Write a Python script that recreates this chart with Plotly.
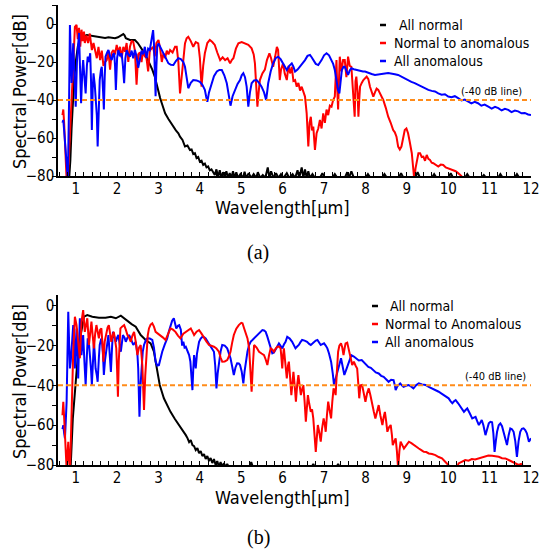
import plotly.graph_objects as go

# ---------------- data: panel (a) ----------------
a_normal_x = [0.84, 0.87, 0.90, 0.93, 0.96, 1.00, 1.05, 1.10, 1.18, 1.27, 1.37, 1.47, 1.55, 1.63, 1.71, 1.79, 1.87, 1.95, 2.02, 2.07, 2.12, 2.15, 2.18, 2.21, 2.31, 2.43, 2.50, 2.55, 2.62, 2.67, 2.73, 2.79, 2.85, 2.91, 2.96, 3.00, 3.04, 3.08, 3.12, 3.16, 3.24, 3.32, 3.42, 3.48, 3.52, 3.58, 3.64, 3.70, 3.76, 3.80, 3.84, 3.88, 3.92, 3.96, 4.00, 4.04, 4.08, 4.12, 4.16, 4.20, 4.24, 4.28, 4.32,
              4.36, 4.40, 4.44, 4.48, 4.52, 4.56, 4.60, 4.64, 4.68, 4.72, 4.76, 4.80, 4.84, 4.88, 4.92, 4.98, 5.04, 5.08, 5.12, 5.18, 5.24, 5.30, 5.36, 5.40, 5.46, 5.52, 5.58, 5.64, 5.68, 5.72, 5.78, 5.84, 5.90, 5.96, 6.02, 6.10, 6.16, 6.24, 6.30, 6.36, 6.40, 6.46, 6.50, 6.54, 6.58, 6.62, 6.66, 6.72, 6.78, 6.90, 6.96, 7.02, 7.20, 7.26, 7.32, 7.50, 7.56, 7.60, 7.66, 7.72, 8.00, 8.06, 8.12, 8.40, 8.46, 8.52, 8.80, 8.86, 8.92, 9.20, 9.26, 9.32, 9.60, 9.66, 9.72, 10.00, 10.06, 10.12, 10.40, 10.46, 10.52, 10.80, 10.86, 10.92, 11.20, 11.26, 11.32, 11.60, 11.66, 11.72, 12.00]
a_normal_y = [-82, -72, -55, -42, -30, -20, -12, -8, -6.5, -5.8, -6.2, -6.7, -7.0, -7.2, -7.4, -7.0, -7.3, -7.5, -7.0, -6.3, -6.0, -5.3, -6.0, -7.5, -8.4, -8.4, -10, -12, -14, -15.4, -18, -20.7, -24, -27.7, -32, -36.5, -39, -41.7, -44, -47, -50, -53, -56, -57.5, -59.3, -61, -64.5, -64, -66.3, -66, -68.5, -68, -70.6, -70, -72.5, -72, -74.2, -73.5, -75.5, -75, -77, -76.5, -78.4,
              -79.5, -76.5, -80.5, -77, -81, -78, -80.5, -77.5, -81, -78.5, -81, -77.5, -81, -78, -81, -79, -81, -77.8, -81, -78.5, -81, -79, -81, -78, -81, -79.5, -81, -75.5, -81, -77.5, -81, -78.5, -81, -79, -81, -78.5, -81, -79, -81, -77, -81, -75.5, -81, -76.5, -81, -77.5, -81, -79, -81, -81, -78.5, -81, -81, -79, -81, -81, -78, -81, -77.5, -81, -81, -79, -81, -81, -79, -81, -81, -78.5, -81, -81, -78, -81, -81, -79, -81, -81, -78.5, -81, -81, -79, -81, -81, -79.5, -81, -81, -79, -81, -81, -79, -81, -81]

a_n2a_x = [0.68, 0.70, 0.72, 0.74, 0.76, 0.78, 0.81, 0.84, 0.87, 0.90, 0.94, 0.98, 1.02, 1.05, 1.08, 1.11, 1.14, 1.17, 1.20, 1.22, 1.26, 1.30, 1.34, 1.39, 1.43, 1.47, 1.51, 1.55, 1.59, 1.63, 1.67, 1.71, 1.75, 1.79, 1.83, 1.87, 1.91, 1.95, 1.99, 2.03, 2.07, 2.11, 2.15, 2.19, 2.23, 2.27, 2.31, 2.35, 2.39, 2.43, 2.47, 2.51, 2.55, 2.59, 2.63, 2.67, 2.71, 2.75, 2.79, 2.83, 2.87, 2.91, 2.95, 3.00, 3.04, 3.08, 3.12, 3.16, 3.20, 3.24, 3.28, 3.34, 3.40, 3.44, 3.48, 3.52, 3.56, 3.60, 3.64, 3.68, 3.72, 3.78, 3.84, 3.90, 3.96, 4.00, 4.04, 4.08, 4.12, 4.18, 4.24, 4.30, 4.36, 4.42, 4.49, 4.55, 4.61, 4.67, 4.73, 4.77, 4.81, 4.87, 4.93, 5.01, 5.09, 5.17, 5.25, 5.30, 5.33, 5.36, 5.39, 5.42, 5.45, 5.51, 5.57, 5.62, 5.68, 5.72, 5.77, 5.82, 5.86, 5.89, 5.91, 5.93, 5.96, 6.01, 6.05, 6.10, 6.14, 6.18, 6.22, 6.26, 6.30, 6.34, 6.38, 6.42, 6.46, 6.50, 6.54, 6.58, 6.62, 6.65, 6.68, 6.71, 6.74, 6.78, 6.82, 6.86, 6.90, 6.94, 6.98, 7.02, 7.06, 7.10, 7.14, 7.18, 7.22, 7.26, 7.28, 7.30, 7.32, 7.34, 7.36, 7.38, 7.42, 7.46, 7.50, 7.54, 7.58, 7.62, 7.66, 7.70, 7.74, 7.76, 7.78, 7.81, 7.83, 7.85, 7.87, 7.91, 7.95, 8.03, 8.07, 8.11, 8.15, 8.19, 8.23, 8.27, 8.31, 8.37, 8.43, 8.49, 8.55, 8.61, 8.67, 8.71, 8.75, 8.79, 8.83, 8.87, 8.91, 8.95, 8.99, 9.03, 9.07, 9.12, 9.15, 9.18, 9.21, 9.24, 9.28, 9.32, 9.36, 9.40, 9.44, 9.48, 9.52, 9.56, 9.60, 9.64, 9.70, 9.76, 9.82, 9.88, 9.94, 10.00, 10.06, 10.12, 10.18, 10.24, 10.28, 10.32, 10.36]
a_n2a_y = [-48, -45, -52, -62, -75, -82, -82, -70, -55, -40, -22, -1.5, -0.5, -8, -2, -12, -3, -9, -4, -10, -6, -10, -5, -13.7, -10, -13.7, -18, -12, -19, -14, -22, -20, -19, -14, -24, -15, -13.7, -16, -11, -15, -12, -18, -12, -14.6, -10, -20, -12, -9, -9.3, -14, -32, -16, -15, -20, -14, -17, -18, -25, -14, -13, -12, -17, -10, -8.4, -13, -20, -15.4, -18, -14, -16, -13.7, -15, -12, -12, -20, -36.5, -28, -18, -10.2, -7.5, -6.7, -9, -12, -9.5, -10.2, -18, -33, -22, -15.4, -10, -8.4, -9.5, -11, -15, -19, -17.5, -19, -18, -20.7, -19, -18, -13, -10.2, -9.5, -10.2, -11, -12.8, -16, -20.7, -30, -43.5, -36, -29.5, -26, -24, -19, -15.4, -18, -22.5, -17, -12, -13.7, -20, -29.5, -24, -20.7, -26, -29.5, -22, -26, -22.5, -30, -29.5, -33, -31, -35, -33, -36, -38.2, -47, -64.5, -52, -48.8, -56, -54, -66.3, -57.5, -55, -50.5, -55, -47, -52, -45, -48, -43, -43.5, -40, -38.2, -25, -19, -35, -45, -30, -17.2, -25, -19, -19, -28, -17.2, -22, -22.5, -35, -48.8, -30, -27.7, -36, -48.8, -40, -33, -31, -29.5, -27.7, -29, -33, -36, -38.2, -36, -34, -34.7, -37, -40, -44, -48.8, -52, -55.8, -57, -59.3, -64.5, -66, -64.5, -60, -55.8, -55, -57.5, -62, -68, -75, -82, -76, -71.6, -68, -68, -70, -69.8, -72, -68.9, -71, -71.6, -73, -73.3, -74, -75, -74, -74.2, -75.5, -75.9, -76.5, -76.8, -77.5, -78.5, -79.2, -80, -82]

a_anom_x = [0.68, 0.70, 0.72, 0.74, 0.77, 0.81, 0.84, 0.86, 0.88, 0.90, 0.94, 0.97, 1.00, 1.03, 1.05, 1.08, 1.10, 1.13, 1.16, 1.18, 1.21, 1.24, 1.27, 1.29, 1.32, 1.35, 1.37, 1.39, 1.41, 1.43, 1.46, 1.48, 1.51, 1.53, 1.56, 1.58, 1.61, 1.63, 1.66, 1.68, 1.70, 1.72, 1.76, 1.79, 1.83, 1.87, 1.90, 1.93, 1.95, 1.97, 2.00, 2.03, 2.07, 2.11, 2.14, 2.17, 2.20, 2.23, 2.27, 2.31, 2.35, 2.39, 2.43, 2.47, 2.51, 2.55, 2.59, 2.63, 2.67, 2.71, 2.75, 2.79, 2.83, 2.87, 2.89, 2.91, 2.93, 2.95, 2.97, 3.00, 3.04, 3.08, 3.12, 3.18, 3.24, 3.30, 3.36, 3.42, 3.48, 3.54, 3.60, 3.64, 3.68, 3.72, 3.78, 3.84, 3.92, 4.00, 4.06, 4.12, 4.15, 4.18, 4.22, 4.28, 4.34, 4.41, 4.47, 4.53, 4.59, 4.65, 4.70, 4.74, 4.79, 4.85, 4.91, 4.97, 5.01, 5.05, 5.09, 5.13, 5.17, 5.21, 5.25, 5.31, 5.37, 5.43, 5.49, 5.55, 5.60, 5.63, 5.65, 5.71, 5.77, 5.83, 5.89, 5.95, 6.01, 6.06, 6.10, 6.16, 6.22, 6.26, 6.30, 6.36, 6.42, 6.48, 6.54, 6.60, 6.66, 6.70, 6.74, 6.80, 6.86, 6.90, 6.94, 7.00, 7.06, 7.12, 7.18, 7.22, 7.26, 7.30, 7.34, 7.37, 7.40, 7.43, 7.47, 7.50, 7.54, 7.58, 7.62, 7.66, 7.72, 7.78, 7.86, 7.94, 7.99, 8.07, 8.15, 8.23, 8.31, 8.39, 8.47, 8.55, 8.63, 8.71, 8.79, 8.87, 8.95, 9.03, 9.11, 9.19, 9.27, 9.35, 9.43, 9.52, 9.60, 9.68, 9.76, 9.84, 9.92, 10.00, 10.08, 10.16, 10.24, 10.32, 10.40, 10.48, 10.56, 10.64, 10.72, 10.80, 10.88, 10.97, 11.05, 11.13, 11.21, 11.29, 11.37, 11.45, 11.53, 11.61, 11.69, 11.77, 11.85, 11.93, 12.00]
a_anom_y = [-52, -50.5, -56, -61, -70, -82, -40, -0.5, -15, -31, -10.2, -25, -43.5, -20, -13.7, -4.7, -20, -41.7, -25, -19, -28, -36.5, -22, -17.2, -20, -15.4, -30, -55.8, -35, -26, -32, -40, -48, -64.5, -40, -29.5, -24, -22.5, -35, -45, -28, -17.2, -15, -13.7, -17, -19, -16, -15.4, -22, -34.7, -18, -13.7, -17, -15.4, -22, -31.2, -18, -13.7, -16, -17.2, -14, -18, -13.7, -17, -23, -18, -14, -16, -12, -18, -13, -13.7, -8, -3.2, -10, -25, -38, -22, -12, -10.2, -12, -14, -15.4, -18, -20.7, -21.5, -21.6, -19.5, -18, -18.5, -20, -22.5, -28, -33.8, -31, -29.5, -29.7, -30.4, -32, -34.7, -38, -40.9, -36, -31.2, -27.5, -25, -24.2, -24.2, -27, -31.2, -37, -43, -38, -34.7, -31.5, -29.5, -27, -25.9, -28, -33, -43.5, -36, -31.2, -29.7, -29.5, -31, -33, -36, -40, -35, -31.2, -25, -20.7, -18, -17.2, -18.5, -20.7, -23, -24.2, -22, -20.7, -22.5, -25, -24, -22.5, -20.5, -19, -16.8, -16.3, -17.5, -19, -21, -21.6, -20.5, -19, -16.5, -15.4, -16.5, -19, -21, -24.2, -31.2, -35, -36.5, -28, -24.2, -22.5, -22.5, -24.5, -26.8, -24.5, -23.3, -23.8, -24.2, -24.5, -25, -25, -25.8, -26.3, -26.8, -26.4, -26.1, -26, -25.8, -26, -26.4, -26.8, -27.8, -28.7, -29.5, -30.5, -31.1, -32, -32.8, -33.4, -34.7, -35.2, -35.5, -36.5, -37.2, -37.0, -38.2, -38.5, -38.0, -39, -40.2, -39.8, -40.9, -41.8, -41.0, -41.7, -43.0, -42.4, -43.5, -44.5, -43.6, -44.3, -45.5, -44.6, -45.2, -46.4, -45.6, -46, -47.0, -46.8, -47.6, -47.9]

# ---------------- data: panel (b) ----------------
b_normal_x = [0.84, 0.88, 0.93, 0.98, 1.04, 1.12, 1.20, 1.28, 1.40, 1.56, 1.72, 1.85, 1.97, 2.09, 2.17, 2.25, 2.35, 2.45, 2.57, 2.69, 2.81, 2.89, 2.93, 2.97, 3.03, 3.13, 3.21, 3.29, 3.40, 3.50, 3.58, 3.66, 3.70, 3.74, 3.78, 3.82, 3.86, 3.90, 3.94, 3.98, 4.02, 4.06, 4.10, 4.14, 4.18, 4.22, 4.26, 4.30, 4.34, 4.38, 4.42, 4.46, 4.50, 4.54, 4.58, 4.62, 4.66, 4.70, 5.20, 5.24, 5.28, 6.70, 6.74, 6.78, 7.30, 7.34, 7.38, 12.00]
b_normal_y = [-82, -80, -56.6, -43.2, -28, -14.7, -5.5, -4.7, -5.5, -6, -6, -5.5, -6.3, -5, -6.3, -8, -9.2, -10.5, -14.7, -17.2, -18.9, -23.1, -28, -33.2, -39.8, -46.5, -50, -53.3, -57, -59.9, -62.5, -65, -66.5, -68.5, -67.5, -70, -70.5, -72.5, -71.5, -74, -73, -75.5, -74.5, -77, -75.5, -78, -76.5, -79, -77, -80, -78, -81, -78.5, -81, -79, -81, -79.5, -81, -81, -78.5, -81, -81, -79.5, -81, -81, -79.5, -81, -81]

b_n2a_x = [0.68, 0.70, 0.72, 0.74, 0.76, 0.78, 0.80, 0.82, 0.84, 0.86, 0.88, 0.91, 0.94, 0.98, 1.02, 1.06, 1.10, 1.14, 1.18, 1.22, 1.25, 1.28, 1.32, 1.35, 1.38, 1.41, 1.44, 1.47, 1.50, 1.53, 1.56, 1.59, 1.62, 1.65, 1.67, 1.70, 1.74, 1.77, 1.80, 1.83, 1.86, 1.89, 1.92, 1.95, 1.98, 2.00, 2.02, 2.04, 2.06, 2.08, 2.12, 2.17, 2.21, 2.25, 2.29, 2.33, 2.37, 2.41, 2.45, 2.49, 2.53, 2.57, 2.61, 2.65, 2.68, 2.71, 2.74, 2.77, 2.81, 2.85, 2.89, 2.93, 2.99, 3.05, 3.11, 3.17, 3.23, 3.29, 3.35, 3.41, 3.47, 3.53, 3.60, 3.66, 3.72, 3.78, 3.82, 3.86, 3.92, 3.98, 4.04, 4.10, 4.16, 4.22, 4.28, 4.34, 4.40, 4.46, 4.50, 4.54, 4.60, 4.66, 4.70, 4.74, 4.78, 4.82, 4.88, 4.94, 5.00, 5.03, 5.07, 5.11, 5.15, 5.19, 5.22, 5.25, 5.28, 5.31, 5.37, 5.43, 5.49, 5.55, 5.59, 5.63, 5.67, 5.71, 5.75, 5.79, 5.83, 5.87, 5.91, 5.95, 5.97, 5.99, 6.01, 6.03, 6.06, 6.10, 6.13, 6.15, 6.18, 6.21, 6.24, 6.26, 6.29, 6.32, 6.35, 6.38, 6.41, 6.44, 6.47, 6.50, 6.53, 6.56, 6.59, 6.61, 6.64, 6.68, 6.71, 6.74, 6.77, 6.80, 6.83, 6.85, 6.88, 6.92, 6.95, 6.99, 7.02, 7.04, 7.07, 7.10, 7.13, 7.17, 7.20, 7.23, 7.26, 7.28, 7.31, 7.34, 7.37, 7.41, 7.44, 7.47, 7.50, 7.52, 7.56, 7.60, 7.64, 7.68, 7.72, 7.76, 7.80, 7.83, 7.85, 7.88, 7.92, 7.96, 8.00, 8.04, 8.08, 8.12, 8.16, 8.20, 8.24, 8.28, 8.32, 8.36, 8.41, 8.44, 8.47, 8.50, 8.53, 8.57, 8.61, 8.64, 8.66, 8.70, 8.73, 8.76, 8.79, 8.82, 8.85, 8.89, 8.93, 8.99, 9.05, 9.11, 9.17, 9.23, 9.29, 9.35, 9.41, 9.47, 9.53, 9.61, 9.69, 9.77, 9.85, 9.91, 9.97, 10.01, 10.05, 10.20, 10.25, 10.33, 10.41, 10.49, 10.57, 10.65, 10.73, 10.81, 10.89, 10.97, 11.06, 11.14, 11.22, 11.30, 11.38, 11.46, 11.54, 11.62, 11.70, 11.76, 11.82, 11.88]
b_n2a_y = [-55, -48.2, -56, -65, -75, -82, -75, -68.3, -78, -82, -70, -45, -23.1, -5.5, -9.7, -18, -26.4, -8, -2.2, -13.1, -9, -6.3, -19.7, -12, -8, -15, -21.4, -14, -9.7, -13, -16.4, -12, -11.4, -20, -28.1, -18, -13.1, -11, -9.7, -14, -18.1, -15, -13.1, -17, -21.4, -32, -45.7, -28, -15, -11.4, -10.5, -9.7, -12, -14.7, -16, -18.1, -15, -13.1, -18, -24.8, -21, -19.7, -30, -52.4, -35, -23.1, -15, -11.4, -9.5, -8.8, -10.5, -13.1, -14, -14.7, -16, -17.2, -14, -11.4, -12, -13.1, -15, -16.4, -14, -13.1, -12, -11.4, -13, -14.7, -13, -12.2, -14, -16.4, -18, -19.7, -20, -20.6, -21.5, -23.1, -26, -28.1, -28, -27.3, -25.5, -23.1, -18.5, -14.7, -11.5, -9.7, -8.6, -8.8, -11.4, -14, -16.4, -21.4, -30, -43.2, -30, -19.7, -21, -23.1, -24, -24.8, -27, -29.8, -25, -21.4, -22, -23.1, -21.5, -20.6, -20.5, -21.4, -26, -31.5, -25, -21.4, -28, -36.5, -30, -28.1, -36, -44.9, -38, -33.2, -40, -48.2, -40, -34.8, -40, -44.9, -42, -39.8, -48, -58.3, -50, -44.9, -49, -53.3, -52, -56.6, -65, -73.4, -65, -59.9, -63, -68.3, -62, -56.6, -60, -63.3, -55, -48.2, -52, -56.6, -48, -41.5, -43, -44.9, -33, -23.1, -20, -18.9, -21, -24.8, -21, -18.9, -18.5, -23.1, -26, -29.8, -28.1, -30, -31.5, -40, -46.5, -40, -39.8, -44, -48.2, -44, -41.5, -45, -49.9, -53, -56.6, -53, -49.9, -55, -59.9, -56, -53.3, -58, -63.3, -61, -59.9, -65, -70, -68, -66.6, -73, -82, -73, -68.3, -70, -71.7, -70, -68.3, -69, -70, -71, -71.7, -72.5, -73.4, -73.5, -74.2, -74.5, -75, -76, -76.7, -78, -79.2, -80.2, -82, -82, -79.2, -78.2, -77.5, -77.8, -77, -77.2, -76.7, -76.4, -75.9, -75.2, -75.4, -75.6, -75.9, -76.6, -76.7, -77.5, -78.4, -79, -80, -79.5, -81, -82]

b_anom_x = [0.68, 0.70, 0.72, 0.74, 0.76, 0.78, 0.80, 0.82, 0.84, 0.86, 0.88, 0.90, 0.92, 0.94, 0.96, 0.98, 1.00, 1.02, 1.04, 1.06, 1.08, 1.10, 1.12, 1.14, 1.16, 1.18, 1.21, 1.24, 1.27, 1.29, 1.32, 1.34, 1.37, 1.39, 1.42, 1.44, 1.46, 1.48, 1.51, 1.53, 1.56, 1.58, 1.61, 1.63, 1.66, 1.68, 1.71, 1.74, 1.77, 1.79, 1.82, 1.85, 1.88, 1.90, 1.94, 1.97, 2.00, 2.03, 2.06, 2.09, 2.12, 2.14, 2.18, 2.21, 2.25, 2.29, 2.34, 2.39, 2.45, 2.49, 2.51, 2.53, 2.54, 2.56, 2.59, 2.62, 2.65, 2.69, 2.73, 2.79, 2.85, 2.89, 2.93, 2.97, 3.01, 3.05, 3.09, 3.15, 3.21, 3.25, 3.29, 3.33, 3.37, 3.40, 3.43, 3.47, 3.50, 3.54, 3.57, 3.60, 3.63, 3.66, 3.70, 3.74, 3.77, 3.79, 3.82, 3.84, 3.86, 3.88, 3.90, 3.93, 3.96, 3.98, 4.02, 4.06, 4.10, 4.14, 4.20, 4.26, 4.31, 4.34, 4.37, 4.40, 4.43, 4.46, 4.50, 4.54, 4.60, 4.66, 4.70, 4.74, 4.78, 4.82, 4.86, 4.90, 4.94, 4.97, 5.01, 5.05, 5.08, 5.11, 5.15, 5.19, 5.23, 5.27, 5.33, 5.39, 5.45, 5.51, 5.55, 5.59, 5.63, 5.67, 5.71, 5.75, 5.79, 5.83, 5.87, 5.91, 5.95, 5.99, 6.03, 6.07, 6.11, 6.17, 6.23, 6.27, 6.31, 6.35, 6.39, 6.43, 6.47, 6.53, 6.59, 6.64, 6.68, 6.72, 6.76, 6.80, 6.84, 6.88, 6.92, 6.96, 7.00, 7.04, 7.08, 7.12, 7.17, 7.21, 7.24, 7.28, 7.33, 7.37, 7.41, 7.45, 7.49, 7.53, 7.57, 7.62, 7.66, 7.72, 7.78, 7.84, 7.91, 7.99, 8.07, 8.13, 8.19, 8.25, 8.32, 8.38, 8.44, 8.50, 8.56, 8.62, 8.68, 8.71, 8.73, 8.77, 8.84, 8.88, 8.92, 8.98, 9.04, 9.10, 9.16, 9.22, 9.29, 9.37, 9.45, 9.53, 9.61, 9.69, 9.77, 9.83, 9.89, 9.95, 10.01, 10.06, 10.10, 10.14, 10.18, 10.24, 10.30, 10.34, 10.38, 10.42, 10.46, 10.52, 10.58, 10.62, 10.66, 10.70, 10.74, 10.78, 10.81, 10.85, 10.90, 10.94, 10.98, 11.02, 11.06, 11.09, 11.12, 11.15, 11.18, 11.22, 11.26, 11.30, 11.34, 11.38, 11.42, 11.46, 11.50, 11.54, 11.58, 11.62, 11.66, 11.70, 11.74, 11.78, 11.82, 11.86, 11.90, 11.95, 12.00]
b_anom_y = [-62, -60, -64, -66.6, -58, -48.2, -25, -3, -18, -31.5, -28, -23.1, -15, -9.7, -20, -31.5, -20, -11.4, -25, -36.5, -20, -6.3, -15, -24.8, -19, -14.7, -28, -39.8, -25, -16.4, -19, -23.1, -32, -39.8, -25, -18.1, -24, -31.5, -35, -38.2, -26, -19.7, -17, -16.4, -25, -34.8, -27, -21.4, -17, -14.7, -24, -33.2, -20, -13.1, -16, -18.1, -16, -14.7, -19, -23.1, -18, -14.7, -16, -18.1, -16, -14.7, -17, -19.7, -18.1, -24, -31.5, -45, -55.8, -42, -29.8, -23, -19.7, -17.5, -16.4, -16.5, -17.2, -21, -28.1, -30, -29.8, -26, -23.1, -19.5, -16.4, -13, -9.7, -7.5, -6.3, -8.5, -11.4, -10, -9.7, -12, -20, -18, -21, -20.6, -23, -24.8, -28, -33.2, -42.4, -32, -24.8, -28, -31.5, -24, -19, -18.1, -16.5, -15.6, -15.8, -16.4, -18.5, -20.6, -22, -23.1, -30, -41.5, -34, -28.1, -23, -19.7, -20, -21.4, -23.5, -26.4, -30.5, -34.8, -31, -28.9, -29, -29.8, -33, -39, -33, -28.1, -23, -19.7, -18, -17.2, -16, -14.7, -13.2, -12.2, -12.4, -13.1, -15.5, -18.1, -21, -23.9, -23.5, -22.3, -20.5, -18.9, -20, -21.4, -19.5, -18.1, -15.6, -16.5, -18.1, -20, -21.4, -20.5, -19.7, -18.3, -17.2, -17.5, -18.1, -19.2, -19.7, -19, -18.1, -17.5, -17.2, -18.5, -19.7, -19.3, -18.9, -20, -21.4, -24, -28.1, -34, -39.8, -36.5, -33.2, -29.5, -26.4, -30, -34.8, -32.5, -29.8, -27, -24.8, -25.5, -26.4, -27.5, -27.3, -28.8, -30.7, -31.2, -32.3, -33.5, -34, -35.2, -35.7, -37, -38.2, -37.2, -37.4, -40, -42.4, -40.5, -39, -40, -40.7, -40.2, -39.8, -40.5, -41.5, -40, -39, -39.5, -39.8, -40.8, -41.5, -42.4, -43.2, -44, -44.9, -45.6, -46.5, -48, -49, -48, -47.4, -49, -50.7, -52, -53.3, -52.4, -51.6, -54, -56.6, -56.2, -55.8, -58, -59.9, -58.5, -57.4, -60, -65, -62, -59.1, -58.3, -58.5, -64, -73.4, -68, -63.3, -60, -59.1, -60.5, -63.3, -67, -70, -65, -61.6, -62, -63.3, -68, -75.9, -68, -63.3, -61.8, -61.6, -62.5, -64.1, -68.3, -66.6]

threshold_x = [0.572, 12.0]
threshold_y = [-40, -40]

series_names = ["All normal", "Normal to anomalous", "All anomalous"]
series_names_b = ["All normal", "Normal to Anomalous", "All anomalous"]
captions = ["(a)", "(b)"]
x_title = "Wavelength[\u03bcm]"
y_title = "Spectral Power[dB]"
threshold_label = "(-40 dB line)"
x_ticks = [1, 2, 3, 4, 5, 6, 7, 8, 9, 10, 11, 12]
y_ticks = [0, -20, -40, -60, -80]

BLACK, RED, BLUE, ORANGE = "#000000", "#ff0000", "#0000ff", "#ff8c1a"
FONT = "DejaVu Sans Condensed, DejaVu Sans, sans-serif"

fig = go.Figure()
LW = 2

def add(x, y, color, xa, ya):
    fig.add_trace(go.Scatter(x=x, y=y, mode="lines", line=dict(color=color, width=LW),
                             xaxis=xa, yaxis=ya, showlegend=False, hoverinfo="skip"))

# panel (a)
add(a_normal_x, a_normal_y, BLACK, "x", "y")
add(a_n2a_x, a_n2a_y, RED, "x", "y")
add(a_anom_x, a_anom_y, BLUE, "x", "y")
fig.add_trace(go.Scatter(x=threshold_x, y=threshold_y, mode="lines",
                         line=dict(color=ORANGE, width=2, dash="5px,3px"),
                         xaxis="x", yaxis="y", showlegend=False, hoverinfo="skip"))
# panel (b)
add(b_normal_x, b_normal_y, BLACK, "x2", "y2")
add(b_anom_x, b_anom_y, BLUE, "x2", "y2")
add(b_n2a_x, b_n2a_y, RED, "x2", "y2")
fig.add_trace(go.Scatter(x=threshold_x, y=threshold_y, mode="lines",
                         line=dict(color=ORANGE, width=2, dash="5px,3px"),
                         xaxis="x2", yaxis="y2", showlegend=False, hoverinfo="skip"))

W, H = 553, 554
L, R, T, B = 58, 22, 5, 89
PW, PH = W - L - R, H - T - B

def px(xp):
    return (xp - L) / PW

def py(yp):
    return 1 - (yp - T) / PH

xaxis_common = dict(range=[0.572, 12.0], tickvals=x_ticks, ticks="inside", ticklen=4, tickwidth=1,
                    tickcolor="black", showline=True, linecolor="black", linewidth=1.5,
                    showgrid=False, zeroline=False, mirror=False, automargin=False,
                    ticklabelstandoff=-2,
                    tickfont=dict(family=FONT, size=15, color="black"),
                    minor=dict(dtick=0.2, tick0=0, ticks="inside", ticklen=4, tickcolor="black", showgrid=False))
yaxis_common = dict(tickvals=y_ticks, ticks="outside", ticklen=4, tickwidth=1, tickcolor="black",
                    showline=True, linecolor="black", linewidth=1.5, showgrid=False, zeroline=False,
                    automargin=False, ticklabelstandoff=-5,
                    tickfont=dict(family=FONT, size=15, color="black"),
                    minor=dict(dtick=10, tick0=0, ticks="outside", ticklen=4, tickcolor="black", showgrid=False))

top_lo = py(176)
bot_hi = py(295)

fig.update_layout(
    width=W, height=H, margin=dict(l=L, r=R, t=T, b=B, autoexpand=False),
    paper_bgcolor="white", plot_bgcolor="white",
    xaxis=dict(domain=[0, 1], anchor="y", **xaxis_common),
    yaxis=dict(domain=[top_lo, 1], anchor="x", range=[-80, 10], **yaxis_common),
    xaxis2=dict(domain=[0, 1], anchor="y2", **xaxis_common),
    yaxis2=dict(domain=[0, bot_hi], anchor="x2", range=[-80, 5.4], **yaxis_common),
)

ann = []
def text(x, y, t, size, family=FONT, xanchor="center", angle=0, color="black"):
    ann.append(dict(x=px(x), y=py(y), xref="paper", yref="paper", text=t, showarrow=False,
                    xanchor=xanchor, yanchor="middle", textangle=angle,
                    font=dict(family=family, size=size, color=color)))

# axis titles
text(282, 207, x_title, 18)
text(282, 497, x_title, 18)
text(19, 92, y_title, 18, angle=-90)
text(19, 382, y_title, 18, angle=-90)
# captions
text(258, 252, captions[0], 20, family="Liberation Serif, DejaVu Serif, serif")
text(258, 537, captions[1], 20, family="Liberation Serif, DejaVu Serif, serif")
# threshold labels
text(491, 91, threshold_label, 11)
text(495, 376, threshold_label, 11)

# legends
shapes = []
leg_a = [(25, 397, BLACK), (43, 392, RED), (61, 392, BLUE)]
for (yy, tx, col), name in zip(leg_a, series_names):
    shapes.append(dict(type="line", xref="paper", yref="paper", x0=px(380), x1=px(386),
                       y0=py(yy), y1=py(yy), line=dict(color=col, width=2.5)))
    text(tx, yy, name, 14, xanchor="left")
leg_b = [(306, 388, BLACK), (324, 383, RED), (342, 383, BLUE)]
for (yy, tx, col), name in zip(leg_b, series_names_b):
    shapes.append(dict(type="line", xref="paper", yref="paper", x0=px(372), x1=px(378),
                       y0=py(yy), y1=py(yy), line=dict(color=col, width=2.5)))
    text(tx, yy, name, 14, xanchor="left")

fig.update_layout(annotations=ann, shapes=shapes)
fig.write_html("out.html", config={"displayModeBar": False},
               post_script="document.body.style.margin='0';document.body.style.padding='0';")
